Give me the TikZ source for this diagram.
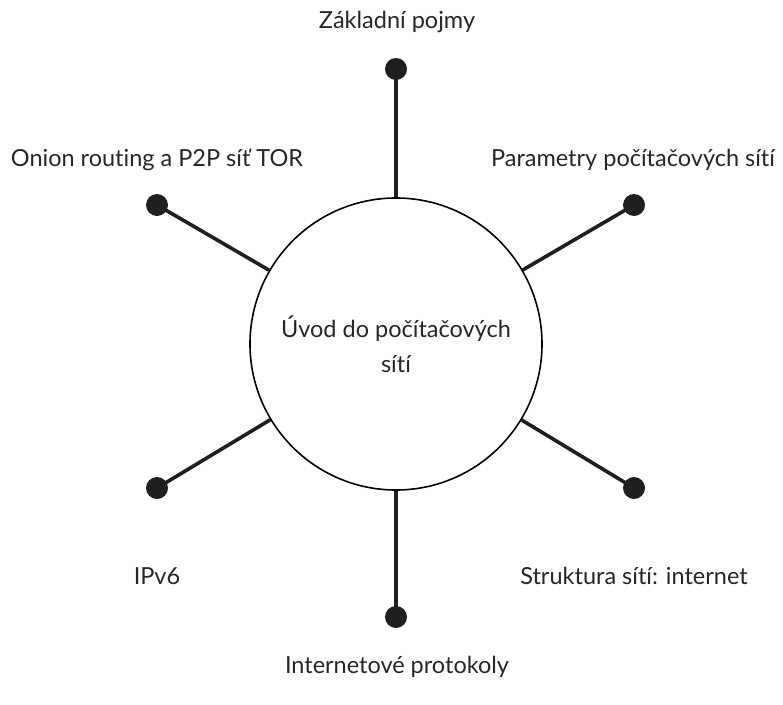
\documentclass[tikz,border=0pt]{standalone}
\usepackage{fontspec}
\setmainfont[Ligatures={NoCommon}]{Lato}
\begin{document}
\begin{tikzpicture}[x=1pt,y=-1pt,
  hub/.style={circle,draw=black,line width=1.6pt,minimum size=292pt,inner sep=0pt,
              align=center,font=\fontsize{23.5}{35}\selectfont,text=black!85},
  spoke/.style={line width=3.6pt,draw=black!88},
  knob/.style={circle,fill=black!88,minimum size=22pt,inner sep=0pt},
  topic/.style={font=\fontsize{23.5}{28}\selectfont,text=black!85,inner sep=0pt}]
\useasboundingbox (0,0) rectangle (783,704);
% central circle
\node[hub] (hub) at (396,344) {Úvod do počítačových\\sítí};
% end points of the six spokes
\node[knob] (k1) at (396,69) {};
\node[knob] (k2) at (634,205) {};
\node[knob] (k3) at (634,488) {};
\node[knob] (k4) at (396,617) {};
\node[knob] (k5) at (157,488) {};
\node[knob] (k6) at (157,205) {};
% spokes
\foreach \k in {k1,k2,k3,k4,k5,k6}
  \draw[spoke] (hub) -- (\k.center);
% labels
\node[topic] (t1) at (397,22) {Základní pojmy};
\node[topic] (t2) at (633,160) {Parametry počítačových sítí};
\node[topic] (t3) at (634,576) {Struktura sítí: internet};
\node[topic] (t4) at (397,667) {Internetové protokoly};
\node[topic] (t5) at (157,576) {IPv6};
\node[topic] (t6) at (157,160) {Onion routing a P2P síť TOR};
\end{tikzpicture}
\end{document}
